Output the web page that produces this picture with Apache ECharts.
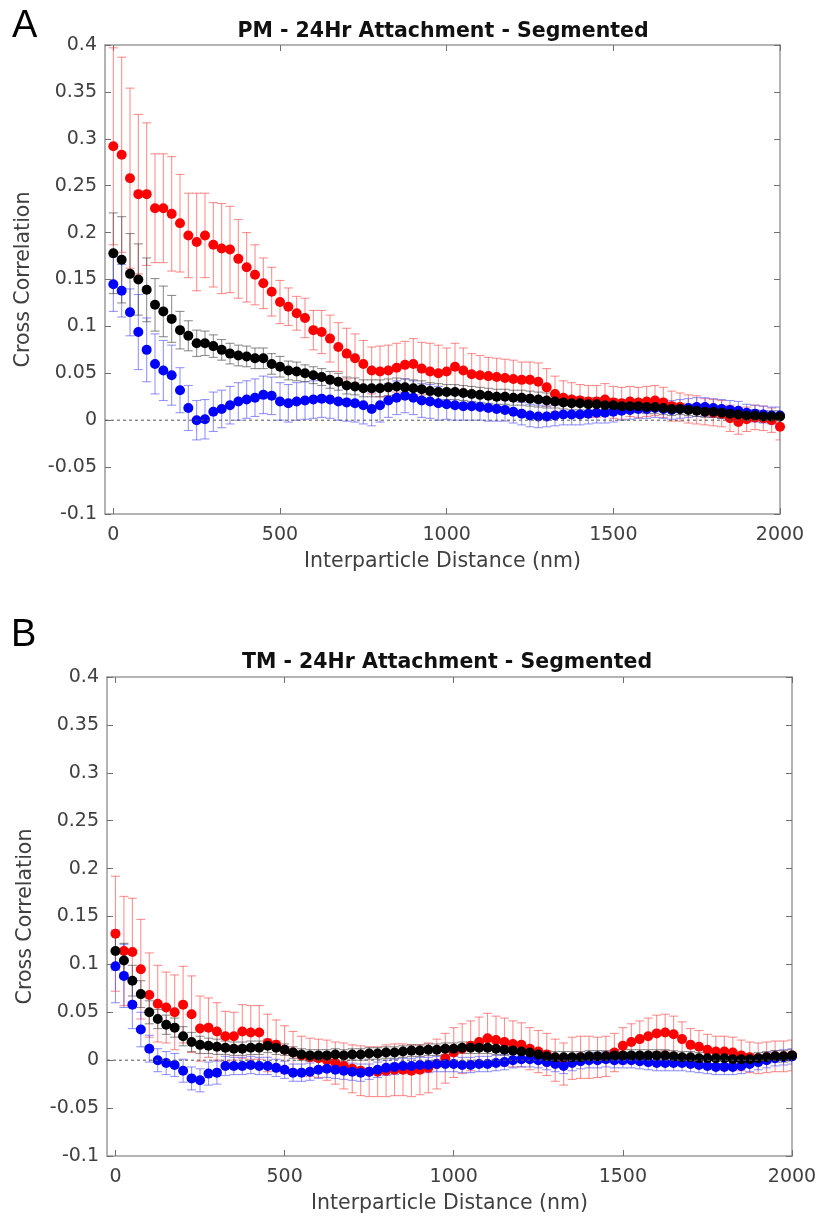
<!DOCTYPE html>
<html>
<head>
<meta charset="utf-8">
<script src="https://cdn.jsdelivr.net/npm/echarts@6/dist/echarts.min.js"></script>
<style>
html,body{margin:0;padding:0;background:#fff;}
#chart{width:821px;height:1220px;}
</style>
</head>
<body>
<div id="chart"></div>
<script>
// ---------- data ----------
const distance = [0,25,50,75,100,125,150,175,200,225,250,275,300,325,350,375,400,425,450,475,500,525,550,575,600,625,650,675,700,725,750,775,800,825,850,875,900,925,950,975,1000,1025,1050,1075,1100,1125,1150,1175,1200,1225,1250,1275,1300,1325,1350,1375,1400,1425,1450,1475,1500,1525,1550,1575,1600,1625,1650,1675,1700,1725,1750,1775,1800,1825,1850,1875,1900,1925,1950,1975,2000];
const xTickValues = [0, 500, 1000, 1500, 2000];

// Panel A: PM
const pmRed = [0.292,0.283,0.258,0.241,0.241,0.226,0.226,0.220,0.210,0.197,
 0.190,0.197,0.187,0.183,0.182,0.172,0.163,0.155,0.146,0.137,
 0.126,0.121,0.114,0.109,0.096,0.094,0.087,0.078,0.071,0.066,
 0.060,0.053,0.052,0.053,0.056,0.059,0.060,0.055,0.052,0.050,
 0.052,0.057,0.053,0.049,0.048,0.047,0.046,0.045,0.044,0.043,
 0.043,0.041,0.035,0.028,0.024,0.022,0.021,0.020,0.020,0.022,
 0.019,0.018,0.020,0.019,0.020,0.021,0.019,0.015,0.014,0.012,
 0.011,0.009,0.008,0.007,0.002,-0.002,0.001,0.003,0.002,0.000,
 -0.007];
const pmRedErr = [0.105,0.104,0.096,0.085,0.076,0.058,0.058,0.061,0.052,0.045,
 0.052,0.045,0.045,0.048,0.046,0.042,0.037,0.032,0.027,0.026,
 0.023,0.020,0.018,0.021,0.021,0.023,0.025,0.026,0.027,0.026,
 0.025,0.025,0.027,0.027,0.026,0.025,0.027,0.028,0.030,0.030,
 0.025,0.025,0.024,0.022,0.021,0.020,0.020,0.020,0.020,0.019,
 0.019,0.020,0.020,0.019,0.018,0.018,0.017,0.017,0.017,0.017,
 0.017,0.017,0.016,0.016,0.016,0.016,0.016,0.016,0.015,0.015,
 0.015,0.014,0.014,0.014,0.014,0.013,0.013,0.013,0.013,0.013,
 0.014];
const pmBlack = [0.178,0.171,0.156,0.150,0.139,0.123,0.116,0.108,0.096,0.090,
 0.082,0.082,0.079,0.075,0.071,0.069,0.068,0.066,0.066,0.060,
 0.057,0.053,0.052,0.050,0.048,0.046,0.043,0.041,0.037,0.036,
 0.034,0.034,0.034,0.035,0.036,0.035,0.034,0.033,0.031,0.030,
 0.030,0.030,0.029,0.028,0.027,0.026,0.025,0.025,0.024,0.024,
 0.023,0.022,0.021,0.020,0.019,0.018,0.018,0.017,0.017,0.016,
 0.016,0.015,0.015,0.015,0.014,0.014,0.013,0.012,0.012,0.011,
 0.010,0.009,0.009,0.008,0.007,0.006,0.005,0.005,0.004,0.004,
 0.004];
const pmBlackErr = [0.043,0.046,0.043,0.038,0.034,0.028,0.027,0.025,0.020,0.016,
 0.014,0.013,0.012,0.011,0.011,0.011,0.011,0.011,0.011,0.011,
 0.011,0.010,0.010,0.009,0.009,0.009,0.009,0.009,0.009,0.009,
 0.009,0.009,0.009,0.009,0.009,0.009,0.009,0.009,0.009,0.009,
 0.008,0.008,0.008,0.008,0.008,0.008,0.008,0.008,0.008,0.008,
 0.008,0.008,0.008,0.007,0.007,0.007,0.007,0.007,0.007,0.007,
 0.007,0.007,0.007,0.007,0.007,0.007,0.007,0.007,0.006,0.006,
 0.006,0.006,0.006,0.006,0.006,0.006,0.006,0.006,0.006,0.006,
 0.006];
const pmBlue = [0.145,0.138,0.115,0.094,0.075,0.060,0.053,0.048,0.032,0.013,
 0.000,0.001,0.009,0.012,0.016,0.020,0.022,0.024,0.027,0.026,
 0.020,0.018,0.020,0.021,0.022,0.023,0.022,0.020,0.019,0.018,
 0.016,0.012,0.016,0.021,0.024,0.026,0.024,0.021,0.020,0.018,
 0.017,0.016,0.015,0.015,0.014,0.013,0.012,0.011,0.009,0.007,
 0.005,0.004,0.004,0.005,0.006,0.006,0.006,0.007,0.008,0.008,
 0.009,0.010,0.011,0.012,0.012,0.013,0.012,0.011,0.012,0.013,
 0.014,0.014,0.013,0.012,0.011,0.010,0.008,0.007,0.006,0.005,
 0.005];
const pmBlueErr = [0.029,0.028,0.025,0.040,0.034,0.032,0.032,0.032,0.024,0.024,
 0.021,0.021,0.021,0.020,0.020,0.020,0.020,0.020,0.020,0.020,
 0.020,0.020,0.020,0.020,0.020,0.020,0.020,0.020,0.020,0.020,
 0.020,0.018,0.018,0.018,0.018,0.018,0.018,0.018,0.018,0.018,
 0.016,0.016,0.015,0.015,0.014,0.014,0.013,0.012,0.012,0.012,
 0.012,0.012,0.011,0.011,0.011,0.011,0.011,0.011,0.011,0.011,
 0.011,0.010,0.010,0.010,0.010,0.010,0.010,0.010,0.010,0.010,
 0.010,0.010,0.010,0.010,0.010,0.010,0.009,0.009,0.009,0.009,
 0.009];

// Panel B: TM
const tmRed = [0.132,0.114,0.113,0.095,0.068,0.059,0.055,0.050,0.058,0.048,
 0.033,0.034,0.030,0.025,0.025,0.030,0.029,0.029,0.018,0.016,
 0.011,0.008,0.005,0.003,0.002,0.000,-0.003,-0.006,-0.009,-0.011,
 -0.012,-0.012,-0.011,-0.010,-0.010,-0.011,-0.010,-0.008,-0.004,0.002,
 0.008,0.012,0.015,0.019,0.023,0.021,0.019,0.017,0.016,0.012,
 0.009,0.006,0.000,-0.004,0.002,0.003,0.003,0.003,0.004,0.008,
 0.015,0.019,0.022,0.025,0.028,0.029,0.027,0.022,0.016,0.014,
 0.011,0.009,0.009,0.008,0.005,0.003,0.002,0.003,0.004,0.004,
 0.005];
const tmRedErr = [0.060,0.057,0.056,0.052,0.044,0.040,0.037,0.039,0.040,0.040,
 0.034,0.031,0.030,0.026,0.025,0.028,0.028,0.028,0.030,0.026,
 0.025,0.022,0.020,0.020,0.020,0.021,0.022,0.024,0.025,0.026,
 0.026,0.026,0.027,0.027,0.027,0.027,0.026,0.026,0.026,0.026,
 0.026,0.026,0.026,0.026,0.026,0.025,0.025,0.024,0.023,0.022,
 0.022,0.022,0.022,0.022,0.022,0.022,0.022,0.021,0.021,0.020,
 0.019,0.019,0.019,0.019,0.019,0.019,0.019,0.018,0.017,0.017,
 0.016,0.016,0.016,0.016,0.016,0.016,0.016,0.016,0.016,0.016,
 0.016];
const tmBlack = [0.114,0.104,0.083,0.069,0.050,0.043,0.037,0.034,0.025,0.019,
 0.016,0.015,0.014,0.013,0.012,0.012,0.013,0.013,0.015,0.013,
 0.011,0.008,0.006,0.005,0.005,0.005,0.006,0.005,0.006,0.006,
 0.007,0.007,0.008,0.008,0.009,0.010,0.010,0.011,0.011,0.012,
 0.012,0.013,0.013,0.013,0.013,0.012,0.011,0.010,0.009,0.008,
 0.006,0.004,0.003,0.003,0.003,0.003,0.004,0.004,0.004,0.005,
 0.005,0.005,0.005,0.005,0.005,0.005,0.004,0.003,0.003,0.002,
 0.002,0.002,0.002,0.001,0.001,0.001,0.002,0.003,0.004,0.004,
 0.005];
const tmBlackErr = [0.020,0.018,0.016,0.014,0.012,0.010,0.010,0.010,0.010,0.010,
 0.009,0.008,0.008,0.007,0.007,0.007,0.007,0.007,0.007,0.007,
 0.006,0.006,0.006,0.006,0.006,0.006,0.006,0.006,0.006,0.006,
 0.006,0.006,0.006,0.006,0.006,0.006,0.006,0.006,0.006,0.006,
 0.006,0.006,0.006,0.006,0.006,0.006,0.006,0.006,0.006,0.006,
 0.006,0.006,0.006,0.006,0.006,0.006,0.006,0.006,0.006,0.006,
 0.006,0.006,0.006,0.006,0.006,0.006,0.006,0.006,0.006,0.006,
 0.006,0.006,0.006,0.006,0.006,0.006,0.006,0.006,0.006,0.006,
 0.006];
const tmBlue = [0.098,0.088,0.058,0.032,0.012,0.000,-0.003,-0.005,-0.011,-0.019,
 -0.021,-0.014,-0.013,-0.006,-0.006,-0.006,-0.005,-0.006,-0.006,-0.008,
 -0.010,-0.013,-0.013,-0.012,-0.010,-0.009,-0.010,-0.011,-0.012,-0.013,
 -0.012,-0.010,-0.008,-0.007,-0.006,-0.006,-0.005,-0.005,-0.004,-0.004,
 -0.004,-0.005,-0.005,-0.004,-0.004,-0.003,-0.002,0.000,0.001,0.001,
 0.000,-0.002,-0.004,-0.006,-0.003,-0.001,0.000,0.000,0.001,0.000,
 0.000,0.000,-0.001,-0.002,-0.003,-0.003,-0.003,-0.003,-0.004,-0.005,
 -0.006,-0.007,-0.007,-0.007,-0.006,-0.004,-0.002,0.000,0.002,0.003,
 0.004];
const tmBlueErr = [0.038,0.033,0.025,0.018,0.014,0.012,0.012,0.012,0.012,0.012,
 0.012,0.012,0.012,0.010,0.009,0.009,0.009,0.009,0.009,0.009,
 0.009,0.009,0.009,0.009,0.009,0.009,0.009,0.009,0.009,0.009,
 0.008,0.008,0.008,0.008,0.008,0.008,0.008,0.008,0.008,0.008,
 0.008,0.008,0.008,0.008,0.008,0.008,0.008,0.008,0.008,0.008,
 0.008,0.008,0.008,0.008,0.008,0.008,0.008,0.008,0.008,0.008,
 0.008,0.008,0.008,0.008,0.008,0.008,0.008,0.008,0.008,0.008,
 0.008,0.008,0.008,0.008,0.008,0.008,0.008,0.008,0.008,0.008,
 0.008];

const titles = ['PM - 24Hr Attachment - Segmented', 'TM - 24Hr Attachment - Segmented'];
const panelLetters = ['A', 'B'];
const xName = 'Interparticle Distance (nm)';
const yName = 'Cross Correlation';

// ---------- chart ----------
const FONT = '"DejaVu Sans", "Open Sans", sans-serif';
const LABEL_COLOR = '#404040';
const BOX_COLOR = '#9a9a9a';

const grids = [
  {left: 105, top: 45, width: 675, height: 469},
  {left: 107, top: 677, width: 685, height: 479}
];

function xAxes(gi) {
  const common = {
    gridIndex: gi, type: 'value', min: -25, max: 2000,
    splitLine: {show: false},
    axisLine: {show: true, onZero: false, lineStyle: {color: BOX_COLOR, width: 1.5}},
    axisTick: {show: true, inside: true, length: 6, customValues: xTickValues, lineStyle: {color: '#707070', width: 1}}
  };
  return [
    Object.assign({}, common, {
      position: 'bottom',
      axisLabel: {show: true, customValues: xTickValues, margin: 12, color: LABEL_COLOR, fontSize: 19, fontFamily: FONT,
        formatter: v => String(v)},
      name: xName, nameLocation: 'middle', nameGap: 37,
      nameTextStyle: {color: LABEL_COLOR, fontSize: 20.5, fontFamily: FONT}
    }),
    Object.assign({}, common, {position: 'top', axisLabel: {show: false}})
  ];
}
function yAxes(gi) {
  const common = {
    gridIndex: gi, type: 'value', min: -0.1, max: 0.4, interval: 0.05,
    splitLine: {show: false},
    axisLine: {show: true, onZero: false, lineStyle: {color: BOX_COLOR, width: 1.5}},
    axisTick: {show: true, inside: true, length: 6, lineStyle: {color: '#707070', width: 1}}
  };
  return [
    Object.assign({}, common, {
      position: 'left',
      axisLabel: {show: true, margin: 8, color: LABEL_COLOR, fontSize: 19, fontFamily: FONT,
        formatter: v => String(+v.toFixed(2))},
      name: yName, nameLocation: 'middle', nameGap: 71, nameRotate: 90,
      nameTextStyle: {color: LABEL_COLOR, fontSize: 20.5, fontFamily: FONT}
    }),
    Object.assign({}, common, {position: 'right', axisLabel: {show: false}})
  ];
}

function errSeries(xi, yi, vals, errs, color) {
  const data = distance.map((d, i) => [d, vals[i] - errs[i], vals[i] + errs[i]]);
  return {
    type: 'custom', xAxisIndex: xi, yAxisIndex: yi, clip: true,
    encode: {x: 0, y: [1, 2]},
    data: data,
    renderItem: function (params, api) {
      const x = api.value(0);
      const pLo = api.coord([x, api.value(1)]);
      const pHi = api.coord([x, api.value(2)]);
      const h = 4.5;
      const st = {stroke: color, lineWidth: 1.1};
      return {type: 'group', children: [
        {type: 'line', shape: {x1: pLo[0], y1: pLo[1], x2: pHi[0], y2: pHi[1]}, style: st},
        {type: 'line', shape: {x1: pHi[0] - h, y1: pHi[1], x2: pHi[0] + h, y2: pHi[1]}, style: st},
        {type: 'line', shape: {x1: pLo[0] - h, y1: pLo[1], x2: pLo[0] + h, y2: pLo[1]}, style: st}
      ]};
    }
  };
}
function dotSeries(xi, yi, vals, color) {
  return {
    type: 'scatter', xAxisIndex: xi, yAxisIndex: yi,
    symbol: 'circle', symbolSize: 10,
    itemStyle: {color: color, opacity: 1},
    data: distance.map((d, i) => [d, vals[i]])
  };
}
function zeroLine(xi, yi) {
  return {
    type: 'line', xAxisIndex: xi, yAxisIndex: yi, symbol: 'none',
    lineStyle: {color: '#555', width: 1, type: [3, 3]},
    data: [[-25, 0], [2000, 0]]
  };
}
function panel(gi, red, redErr, black, blackErr, blue, blueErr) {
  const xi = gi * 2, yi = gi * 2;
  return [
    zeroLine(xi, yi),
    errSeries(xi, yi, red, redErr, 'rgba(255,70,70,0.6)'),
    dotSeries(xi, yi, red, '#ff0000'),
    errSeries(xi, yi, blue, blueErr, 'rgba(80,80,255,0.6)'),
    dotSeries(xi, yi, blue, '#0000ff'),
    errSeries(xi, yi, black, blackErr, 'rgba(70,70,70,0.6)'),
    dotSeries(xi, yi, black, '#000000')
  ];
}

const chart = echarts.init(document.getElementById('chart'), null, {renderer: 'canvas'});
chart.setOption({
  backgroundColor: '#ffffff',
  animation: false,
  grid: grids.map(g => Object.assign({containLabel: false, outerBoundsMode: 'none'}, g)),
  xAxis: xAxes(0).concat(xAxes(1)),
  yAxis: yAxes(0).concat(yAxes(1)),
  series: panel(0, pmRed, pmRedErr, pmBlack, pmBlackErr, pmBlue, pmBlueErr)
    .concat(panel(1, tmRed, tmRedErr, tmBlack, tmBlackErr, tmBlue, tmBlueErr)),
  graphic: [
    {type: 'text', left: 12, top: 8, style: {text: panelLetters[0], font: '38px "Liberation Sans", Arial, sans-serif', fill: '#000'}},
    {type: 'text', left: 11, top: 617, style: {text: panelLetters[1], font: '38px "Liberation Sans", Arial, sans-serif', fill: '#000'}},
    {type: 'text', x: 443, y: 32, style: {text: titles[0], font: 'bold 20.5px "DejaVu Sans", sans-serif', fill: '#111', align: 'center', verticalAlign: 'middle'}},
    {type: 'text', x: 447, y: 663, style: {text: titles[1], font: 'bold 20.5px "DejaVu Sans", sans-serif', fill: '#111', align: 'center', verticalAlign: 'middle'}}
  ]
});
</script>
</body>
</html>
